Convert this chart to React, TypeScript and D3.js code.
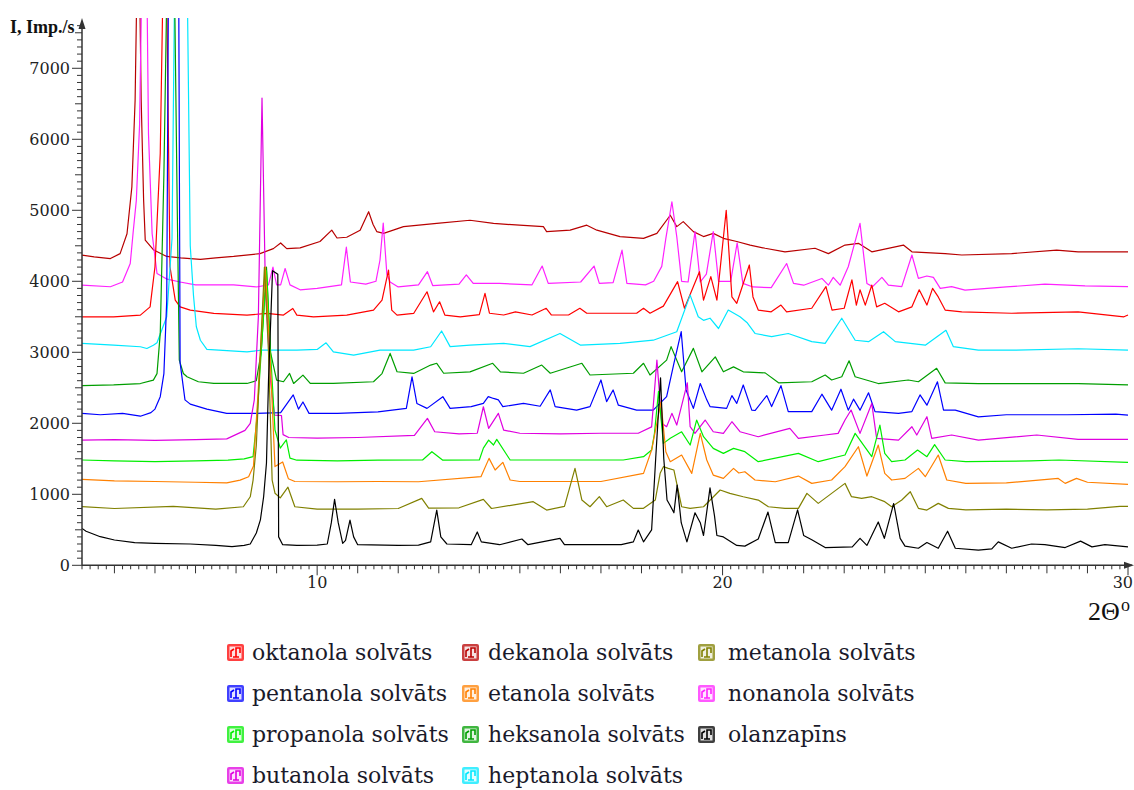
import React from 'react';
import * as d3 from 'd3';

type Pt = [number, number];

// ---- data (2Θ in degrees, intensity in Imp./s) ----
const dekanola: Pt[] = [[4.2,4370],[4.5,4345],[4.9,4320],[5.14,4390],[5.31,4670],[5.43,5330],[5.51,6550],[5.59,9500],[5.66,6550],[5.72,5140],[5.76,4580],[5.97,4440],[6.29,4350],[6.63,4330],[7.12,4310],[7.5,4330],[7.94,4350],[8.59,4390],[8.92,4460],[9.1,4540],[9.25,4460],[9.58,4470],[10.07,4560],[10.36,4720],[10.49,4610],[10.73,4620],[11.06,4720],[11.27,4980],[11.38,4800],[11.47,4700],[11.64,4675],[12.13,4770],[12.95,4815],[13.77,4860],[14.35,4815],[14.99,4790],[15.58,4770],[15.66,4700],[16.24,4720],[16.65,4790],[16.9,4720],[17.47,4630],[18.05,4605],[18.38,4675],[18.71,4930],[18.87,4770],[19.03,4840],[19.28,4700],[19.53,4630],[19.77,4675],[20.02,4605],[20.35,4560],[20.68,4510],[21.05,4465],[21.54,4415],[22.28,4465],[22.61,4390],[23.02,4510],[23.35,4535],[23.68,4415],[24.46,4510],[24.67,4415],[25.49,4390],[25.9,4370],[27.13,4390],[28.24,4440],[28.77,4415],[30,4415]];

const nonanola: Pt[] = [[4.2,3946],[4.9,3923],[5.2,3990],[5.39,4250],[5.46,4680],[5.54,5140],[5.62,6200],[5.75,11000],[5.84,6080],[5.93,4670],[6.05,4110],[6.3,4030],[6.62,3990],[7.0,3950],[7.94,3950],[8.5,3920],[8.8,3950],[8.91,4200],[9.0,3950],[9.1,3950],[9.21,4180],[9.33,3950],[9.58,3880],[10.0,3900],[10.6,3950],[10.72,4480],[10.82,3990],[11.2,3960],[11.45,4000],[11.55,4300],[11.63,4820],[11.72,4100],[11.8,3990],[12.0,3920],[12.5,3950],[12.72,4135],[12.85,3940],[13.5,3960],[13.68,4090],[13.85,3970],[14.5,3970],[15.3,3950],[15.55,4215],[15.7,3970],[16.5,3990],[16.83,4215],[16.96,3970],[17.3,3980],[17.52,4440],[17.64,3970],[18.1,3950],[18.3,4000],[18.5,4210],[18.6,4600],[18.75,5120],[18.87,4630],[18.99,4000],[19.15,3990],[19.32,4700],[19.45,3990],[19.6,4100],[19.77,4700],[19.9,4000],[20.2,4000],[20.36,4540],[20.5,3970],[20.75,3920],[21.2,3910],[21.58,4250],[21.75,3970],[22.0,3945],[22.45,4040],[22.61,3945],[22.73,4055],[22.9,3945],[23.1,4205],[23.39,4815],[23.56,3970],[23.7,3925],[23.93,4055],[24.09,3945],[24.42,3925],[24.67,4370],[24.83,4040],[25.04,4075],[25.2,4055],[25.37,3900],[25.65,3925],[25.98,3875],[27.0,3920],[27.95,3960],[28.94,3935],[30,3925]];

const oktanola: Pt[] = [[4.2,3500],[4.98,3500],[5.64,3524],[5.88,3640],[6.0,4205],[6.13,5800],[6.25,10000],[6.37,4205],[6.5,3735],[6.62,3640],[6.87,3594],[7.45,3547],[8.27,3524],[8.76,3547],[9.17,3524],[9.4,3617],[9.5,3524],[9.91,3500],[10.73,3524],[11.39,3594],[11.6,3735],[11.76,4158],[11.84,3594],[11.97,3524],[12.38,3547],[12.71,3852],[12.87,3570],[13.02,3711],[13.15,3524],[13.53,3500],[14.0,3530],[14.14,3830],[14.25,3550],[14.6,3525],[14.89,3570],[15.3,3525],[15.65,3620],[15.78,3525],[16.2,3525],[16.48,3620],[16.65,3550],[17.88,3550],[18.05,3620],[18.21,3550],[18.54,3650],[18.89,3995],[19.06,3620],[19.43,4135],[19.53,3735],[19.71,4065],[19.86,3735],[20.09,5000],[20.23,3780],[20.35,3690],[20.66,4230],[20.75,3780],[20.88,3595],[21.2,3570],[21.44,3665],[21.58,3570],[22.2,3620],[22.55,3925],[22.7,3595],[23.0,3620],[23.19,4020],[23.3,3665],[23.39,3880],[23.52,3665],[23.68,3945],[23.8,3640],[24.0,3690],[24.34,3570],[24.67,3640],[24.85,3880],[25.04,3665],[25.18,3900],[25.32,3780],[25.49,3595],[25.9,3570],[27.13,3550],[28.77,3570],[29.9,3500],[30,3525]];

const heptanola: Pt[] = [[4.2,3125],[4.98,3100],[5.64,3078],[5.8,3054],[5.96,3100],[6.05,3134],[6.29,3500],[6.42,4600],[6.5,9000],[6.65,14000],[6.8,8000],[6.87,4500],[6.95,3800],[7.02,3360],[7.12,3170],[7.28,3040],[8.27,3007],[8.64,3031],[9.5,3031],[10.0,3040],[10.22,3134],[10.4,3007],[10.9,2960],[11.55,3031],[12.38,3031],[12.8,3078],[13.07,3300],[13.28,3080],[13.77,3100],[14.6,3125],[15.25,3080],[15.99,3265],[16.5,3100],[17.47,3125],[18.29,3170],[18.87,3290],[19.2,3805],[19.4,3500],[19.53,3450],[19.69,3480],[19.9,3335],[20.14,3595],[20.43,3500],[20.6,3420],[20.8,3265],[21.21,3220],[21.62,3265],[22.2,3150],[22.53,3125],[22.94,3480],[23.27,3170],[23.6,3150],[23.97,3290],[24.26,3150],[25.0,3100],[25.51,3310],[25.69,3080],[26.31,3030],[27.13,3030],[28.77,3050],[30,3030]];

const heksanola: Pt[] = [[4.2,2530],[4.98,2540],[5.64,2560],[5.96,2608],[6.05,2700],[6.13,3266],[6.22,5500],[6.4,12000],[6.55,5000],[6.6,2890],[6.7,2702],[6.79,2655],[7.07,2585],[7.45,2561],[8.27,2561],[8.5,2600],[8.62,3000],[8.75,4200],[8.85,3000],[9.0,2608],[9.17,2585],[9.32,2702],[9.42,2561],[9.65,2679],[9.83,2561],[10.4,2561],[11.39,2585],[11.6,2700],[11.8,2984],[11.97,2726],[12.38,2702],[12.8,2820],[12.95,2845],[13.12,2705],[13.77,2725],[14.33,2845],[14.52,2725],[15.09,2705],[15.54,2820],[15.75,2705],[16.53,2845],[16.73,2680],[17.8,2705],[18.05,2845],[18.21,2680],[18.62,2890],[18.73,3080],[18.99,2725],[19.28,3055],[19.49,2725],[19.82,2935],[20.02,2725],[20.27,2795],[20.51,2725],[21.05,2710],[21.38,2570],[22.2,2585],[22.53,2680],[22.69,2610],[22.94,2655],[23.12,2880],[23.27,2655],[23.84,2560],[24.58,2610],[24.83,2585],[25.28,2775],[25.49,2570],[26.31,2560],[28.77,2560],[30,2540]];

const pentanola: Pt[] = [[4.2,2140],[4.65,2120],[5.2,2140],[5.64,2100],[5.9,2150],[6.0,2200],[6.13,2375],[6.22,2700],[6.29,3730],[6.34,9000],[6.47,16000],[6.58,9000],[6.62,2850],[6.74,2330],[6.87,2270],[7.28,2200],[7.77,2140],[8.5,2140],[9.1,2150],[9.41,2400],[9.54,2200],[9.65,2300],[9.8,2140],[10.5,2140],[11.5,2160],[12.2,2210],[12.34,2655],[12.46,2280],[12.71,2210],[13.1,2375],[13.28,2210],[13.8,2235],[14.1,2280],[14.22,2375],[14.35,2350],[14.47,2330],[14.58,2235],[15.09,2280],[15.5,2240],[15.75,2470],[15.87,2235],[16.4,2185],[16.73,2235],[17.0,2610],[17.14,2305],[17.3,2470],[17.43,2255],[17.88,2185],[18.29,2185],[18.62,2375],[18.8,2845],[18.98,3290],[19.1,2470],[19.28,2210],[19.45,2560],[19.61,2330],[19.69,2235],[20.1,2210],[20.23,2390],[20.35,2280],[20.51,2540],[20.72,2185],[20.8,2180],[21.09,2390],[21.21,2235],[21.44,2530],[21.62,2165],[22.2,2165],[22.45,2410],[22.69,2185],[22.92,2480],[23.1,2185],[23.23,2340],[23.39,2185],[23.6,2430],[23.76,2165],[24.34,2140],[24.67,2165],[24.87,2400],[25.04,2255],[25.3,2585],[25.45,2185],[25.74,2185],[26.31,2090],[27.0,2120],[28.5,2120],[29.7,2130],[30,2115]];

const butanola: Pt[] = [[4.2,1764],[5.0,1770],[6.0,1760],[7.0,1770],[7.77,1780],[8.22,1900],[8.35,2000],[8.45,2330],[8.55,3500],[8.64,6580],[8.72,4000],[8.85,2600],[8.95,2115],[9.12,2110],[9.16,1840],[9.3,1800],[10.0,1790],[11.0,1800],[12.4,1830],[12.72,2069],[12.9,1881],[13.5,1850],[13.95,1860],[14.1,2233],[14.23,1928],[14.47,2140],[14.6,1905],[15.0,1860],[16.0,1850],[17.0,1860],[17.92,1860],[18.25,1950],[18.38,2890],[18.5,2000],[18.62,1952],[18.75,2140],[18.87,1975],[19.13,2570],[19.2,1952],[19.32,1858],[19.57,2046],[19.77,1881],[20.02,1858],[20.23,2022],[20.43,1881],[20.88,1811],[21.66,1928],[21.87,1788],[22.53,1835],[22.85,1858],[23.02,2046],[23.17,2187],[23.39,1858],[23.68,2280],[23.8,1788],[24.34,1764],[24.67,1952],[24.79,1835],[25.04,2093],[25.16,1788],[25.65,1835],[26.31,1764],[27.75,1835],[28.77,1774],[30,1774]];

const propanola: Pt[] = [[4.2,1483],[5.0,1470],[6.0,1460],[7.0,1470],[7.8,1480],[8.2,1500],[8.42,1530],[8.52,2110],[8.62,3000],[8.75,4150],[8.85,3000],[8.96,1905],[9.09,1650],[9.24,1765],[9.33,1510],[9.5,1480],[10.5,1470],[11.5,1480],[12.6,1483],[12.83,1600],[13.1,1480],[14.0,1483],[14.1,1650],[14.23,1764],[14.35,1694],[14.43,1774],[14.68,1553],[14.76,1483],[16.0,1483],[17.55,1483],[18.05,1530],[18.25,1623],[18.32,1860],[18.42,2450],[18.54,1717],[18.71,1788],[18.99,1880],[19.2,1694],[19.36,2046],[19.53,1811],[19.77,1647],[20.02,1576],[20.27,1647],[20.55,1600],[20.88,1459],[21.87,1576],[22.36,1459],[23.02,1553],[23.27,1858],[23.68,1530],[23.88,1975],[24.0,1576],[24.17,1459],[24.5,1483],[24.81,1623],[25.04,1530],[25.23,1700],[25.49,1483],[26.0,1459],[27.6,1470],[28.3,1483],[30,1450]];

const etanola: Pt[] = [[4.2,1210],[5.0,1190],[6.0,1180],[7.0,1170],[7.77,1160],[8.1,1200],[8.31,1248],[8.43,1400],[8.55,2500],[8.72,4200],[8.85,2800],[8.96,1390],[9.15,1455],[9.29,1220],[9.45,1180],[10.5,1177],[11.5,1180],[12.5,1177],[14.04,1248],[14.24,1506],[14.39,1342],[14.58,1450],[14.76,1201],[15.0,1180],[16.0,1180],[17.0,1180],[18.05,1295],[18.25,1623],[18.48,2300],[18.6,1600],[18.71,1459],[18.99,1553],[19.24,1295],[19.45,1858],[19.61,1483],[19.77,1271],[20.02,1224],[20.27,1365],[20.4,1300],[20.55,1318],[20.8,1201],[21.3,1177],[21.87,1257],[22.2,1154],[22.69,1201],[23.02,1389],[23.35,1670],[23.56,1257],[23.84,1694],[24.0,1295],[24.17,1201],[24.5,1224],[24.83,1365],[25.0,1248],[25.32,1553],[25.53,1201],[26.0,1154],[27.0,1160],[28.28,1224],[28.45,1154],[28.73,1224],[29.0,1170],[30,1140]];

const metanola: Pt[] = [[4.2,825],[5.0,800],[6.45,830],[7.5,790],[8.18,825],[8.35,965],[8.42,1200],[8.5,1690],[8.6,3000],[8.7,4200],[8.8,3000],[8.89,1200],[8.96,1015],[9.09,950],[9.28,1100],[9.45,825],[10.0,790],[11.0,790],[12.0,800],[12.58,943],[12.75,805],[13.5,810],[14.1,929],[14.3,800],[15.33,896],[15.66,778],[16.1,830],[16.36,1365],[16.53,919],[16.73,825],[16.96,966],[17.14,825],[17.55,919],[17.8,802],[18.05,802],[18.34,919],[18.46,1295],[18.54,1389],[18.66,1365],[18.8,1342],[18.99,825],[19.2,802],[19.53,825],[19.94,1060],[20.18,1013],[20.51,966],[20.88,919],[21.13,825],[21.54,802],[21.87,802],[22.08,1013],[22.36,872],[22.69,1013],[23.02,1154],[23.18,966],[23.43,943],[23.68,966],[24.0,896],[24.17,825],[24.42,919],[24.63,1036],[24.83,802],[25.04,778],[25.32,872],[25.57,802],[26.0,780],[27.0,790],[28.0,780],[29.0,790],[29.8,830],[30,830]];

const olanzapins: Pt[] = [[4.2,520],[4.3,480],[4.65,403],[5.0,356],[5.5,320],[6.0,309],[6.87,300],[7.5,280],[7.9,262],[8.2,280],[8.35,300],[8.5,455],[8.6,640],[8.68,965],[8.75,1440],[8.8,2600],[8.9,4150],[9.03,4100],[9.05,400],[9.15,290],[9.5,280],[10.0,285],[10.25,300],[10.35,600],[10.43,929],[10.52,600],[10.63,309],[10.7,350],[10.81,637],[10.9,400],[11.0,290],[12.0,280],[12.5,285],[12.8,330],[12.95,778],[13.05,400],[13.2,300],[13.8,290],[13.95,470],[14.05,330],[14.5,290],[15.05,370],[15.2,290],[15.99,380],[16.1,290],[17.5,290],[17.8,330],[17.92,497],[18.05,330],[18.25,500],[18.35,1500],[18.47,2640],[18.55,1500],[18.63,919],[18.7,850],[18.8,740],[18.88,1130],[18.98,600],[19.12,330],[19.32,740],[19.45,600],[19.53,420],[19.69,1090],[19.8,700],[19.86,420],[20.02,400],[20.35,280],[20.55,270],[20.88,370],[21.12,750],[21.3,320],[21.62,320],[21.85,780],[22.0,420],[22.2,360],[22.53,250],[23.2,260],[23.39,380],[23.56,280],[23.84,610],[23.99,380],[24.22,870],[24.38,380],[24.5,270],[24.83,240],[25.04,320],[25.32,240],[25.55,480],[25.74,240],[26.31,215],[26.64,230],[26.8,330],[27.13,240],[27.62,300],[27.95,290],[28.45,250],[28.83,340],[29.11,260],[29.43,290],[30,260]];

const seriesNames = ['dekanola solvāts','nonanola solvāts','oktanola solvāts','heptanola solvāts','heksanola solvāts','pentanola solvāts','butanola solvāts','propanola solvāts','etanola solvāts','metanola solvāts','olanzapīns'];
const seriesData: Pt[][] = [dekanola, nonanola, oktanola, heptanola, heksanola, pentanola, butanola, propanola, etanola, metanola, olanzapins];
const seriesColors = ['#b80000','#ff22ff','#ff0000','#00e8ff','#009e00','#0000ff','#e000e0','#00ee00','#ff8000','#808000','#000000'];

// legend layout: columns of names (as in the picture)
const legendColumns: string[][] = [
  ['oktanola solvāts','pentanola solvāts','propanola solvāts','butanola solvāts'],
  ['dekanola solvāts','etanola solvāts','heksanola solvāts','heptanola solvāts'],
  ['metanola solvāts','nonanola solvāts','olanzapīns'],
];

const xDomain: [number, number] = [4.2, 30];
const yDomain: [number, number] = [0, 7680];
const xLabelTicks = [10, 20, 30];
const yLabelTicks = [0, 1000, 2000, 3000, 4000, 5000, 6000, 7000];

export default function App() {
  const W = 1134, H = 790;
  const left = 82, right = 1128, top = 20, bottom = 565.3;
  const x = d3.scaleLinear().domain(xDomain).range([left, right]);
  const y = d3.scaleLinear().domain(yDomain).range([bottom, top]);
  const line = d3.line<Pt>().x(d => x(d[0])).y(d => y(d[1]));

  const xMinor = d3.range(Math.ceil(xDomain[0] * 5), 30 * 5 + 1).map(v => v / 5);
  const yMinor = d3.range(0, 7601, 100);

  const colX = [227, 462, 698];
  const textX = [252, 488, 728];
  const rowBase = [660, 701, 742, 783];

  const colorOf = (name: string) => seriesColors[seriesNames.indexOf(name)];

  return (
    <svg width={W} height={H} style={{ position: 'absolute', left: 0, top: 0, background: '#fff' }}
      fontFamily="'DejaVu Serif', serif">
      <defs>
        <clipPath id="plotclip">
          <rect x={left} y={top - 2} width={W - left} height={bottom - top + 2} />
        </clipPath>
      </defs>

      {/* series */}
      <g clipPath="url(#plotclip)" fill="none" strokeWidth={1.2} strokeLinejoin="round">
        {seriesData.map((s, i) => (
          <path key={seriesNames[i]} d={line(s) || ''} stroke={seriesColors[i]} />
        ))}
      </g>

      {/* y axis */}
      <g stroke="#333" strokeWidth={1}>
        <line x1={left} x2={left} y1={bottom} y2={top + 4} strokeWidth={1.5} />
        {yMinor.map(v => {
          const len = v % 1000 === 0 ? 10 : v % 500 === 0 ? 7 : 5;
          return <line key={'ym' + v} x1={left - len} x2={left} y1={y(v)} y2={y(v)} />;
        })}
      </g>
      <path d={`M${left},${top - 2} L${left - 3.5},${top + 9} L${left + 3.5},${top + 9} Z`} fill="#333" />
      <g fontSize={16} fill="#222" textAnchor="end">
        {yLabelTicks.map(v => (
          <text key={'yl' + v} x={70} y={y(v) + 6}>{v}</text>
        ))}
      </g>

      {/* x axis */}
      <g stroke="#333" strokeWidth={1}>
        <line x1={left} x2={W - 2} y1={bottom} y2={bottom} strokeWidth={1.5} />
        {xMinor.map(v => {
          const isInt = Math.abs(v - Math.round(v)) < 1e-6;
          const len = isInt ? (Math.round(v) % 10 === 0 ? 10 : 8) : 4;
          return <line key={'xm' + v} x1={x(v)} x2={x(v)} y1={bottom} y2={bottom + len} />;
        })}
      </g>
      <path d={`M${W},${bottom} L${W - 10},${bottom - 3.5} L${W - 10},${bottom + 3.5} Z`} fill="#333" />
      <g fontSize={16} fill="#222">
        {xLabelTicks.map(v => (
          <text key={'xl' + v} x={v === 30 ? W - 1 : x(v)} y={588} textAnchor={v === 30 ? 'end' : 'middle'}>{v}</text>
        ))}
      </g>

      {/* axis titles */}
      <text x={10} y={33} fontFamily="'Liberation Serif', serif" fontWeight="bold" fontSize={18} fill="#111">I, Imp./s</text>
      <text x={1088} y={620} fontFamily="'Liberation Serif', serif" fontSize={26} fill="#111">2Θ</text>
      <text x={1121} y={611} fontFamily="'Liberation Serif', serif" fontSize={18} fill="#111">o</text>

      {/* legend */}
      <g>
        {legendColumns.map((col, ci) =>
          col.map((name, ri) => {
            const c = colorOf(name);
            const bx = colX[ci], by = rowBase[ri] - 16;
            return (
              <g key={name}>
                <rect x={bx} y={by} width={17} height={17} rx={2} fill={c} opacity={0.75} />
                <rect x={bx + 2.5} y={by + 2.5} width={12} height={12} fill="#fff" opacity={0.85} />
                <path d={`M${bx + 4},${by + 13} L${bx + 4},${by + 7} L${bx + 7},${by + 5} M${bx + 9},${by + 13} L${bx + 9},${by + 4} L${bx + 13},${by + 4} L${bx + 13},${by + 9} M${bx + 6},${by + 13} L${bx + 12},${by + 13}`}
                  stroke={c} strokeWidth={1.6} fill="none" />
                <text x={textX[ci]} y={rowBase[ri]} fontSize={22} fill="#1a1a2a">{name}</text>
              </g>
            );
          })
        )}
      </g>
    </svg>
  );
}
